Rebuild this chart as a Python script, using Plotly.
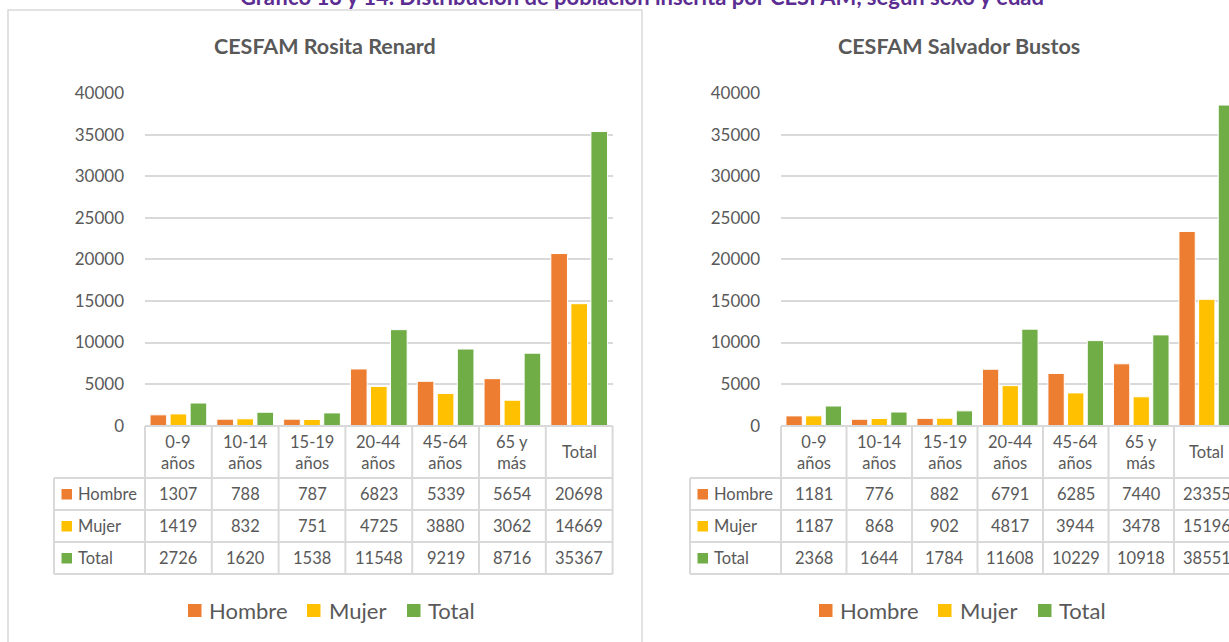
import plotly.graph_objects as go

# ---------------- data ----------------
categories = ["0-9 años", "10-14 años", "15-19 años", "20-44 años", "45-64 años", "65 y más", "Total"]
header_labels = ["0-9<br>años", "10-14<br>años", "15-19<br>años", "20-44<br>años", "45-64<br>años", "65 y<br>más", "Total"]
series_names = ["Hombre", "Mujer", "Total"]

rosita_hombre = [1307, 788, 787, 6823, 5339, 5654, 20698]
rosita_mujer = [1419, 832, 751, 4725, 3880, 3062, 14669]
rosita_total = [2726, 1620, 1538, 11548, 9219, 8716, 35367]

salvador_hombre = [1181, 776, 882, 6791, 6285, 7440, 23355]
salvador_mujer = [1187, 868, 902, 4817, 3944, 3478, 15196]
salvador_total = [2368, 1644, 1784, 11608, 10229, 10918, 38551]

y_ticks = [0, 5000, 10000, 15000, 20000, 25000, 30000, 35000, 40000]
y_tick_labels = ["0", "5000", "10000", "15000", "20000", "25000", "30000", "35000", "40000"]

main_title = "Gráfico 13 y 14. Distribución de población inscrita por CESFAM, según sexo y edad"
chart_titles = ["CESFAM Rosita Renard", "CESFAM Salvador Bustos"]

# ---------------- style ----------------
W, H = 1229, 642
FONT = "Lato"
TXT = "#595959"
GRID = "#D9D9D9"
colors = ["#ED7D31", "#FFC000", "#70AD47"]
TBL_SIZE = 16.5


def X(px):
    return px / W


def Y(py):
    return 1 - py / H


panels = [
    dict(data=[rosita_hombre, rosita_mujer, rosita_total], x0=145, colw=66.8, rh0=54,
         center=325, leg_off=0, xa="x", ya="y"),
    dict(data=[salvador_hombre, salvador_mujer, salvador_total], x0=781, colw=65.5, rh0=690,
         center=959, leg_off=631, xa="x2", ya="y2"),
]

plot_top, plot_bot = 93, 425.7
row_lines = [426, 478, 510, 542, 574]
row_centers = [494, 526, 558]

fig = go.Figure()
shapes = []
annotations = []

for p_i, p in enumerate(panels):
    for s_i, name in enumerate(series_names):
        fig.add_trace(go.Bar(
            x=categories, y=p["data"][s_i], name=name,
            marker=dict(color=colors[s_i], line=dict(color="white", width=1)),
            xaxis=p["xa"], yaxis=p["ya"], showlegend=False,
        ))

    x0, cw, rh0 = p["x0"], p["colw"], p["rh0"]
    x_end = x0 + 7 * cw
    # table horizontal lines
    shapes.append(dict(type="line", xref="paper", yref="paper", x0=X(x0), x1=X(x_end),
                       y0=Y(row_lines[0]), y1=Y(row_lines[0]), line=dict(color=GRID, width=2)))
    for ry in row_lines[1:]:
        shapes.append(dict(type="line", xref="paper", yref="paper", x0=X(rh0), x1=X(x_end),
                           y0=Y(ry), y1=Y(ry), line=dict(color=GRID, width=2)))
    # vertical lines
    shapes.append(dict(type="line", xref="paper", yref="paper", x0=X(rh0), x1=X(rh0),
                       y0=Y(row_lines[1]), y1=Y(row_lines[-1]), line=dict(color=GRID, width=2)))
    for k in range(8):
        xx = x0 + k * cw
        shapes.append(dict(type="line", xref="paper", yref="paper", x0=X(xx), x1=X(xx),
                           y0=Y(row_lines[0]), y1=Y(row_lines[-1]), line=dict(color=GRID, width=2)))
    # header labels
    for k, lab in enumerate(header_labels):
        annotations.append(dict(text=lab, xref="paper", yref="paper", x=X(x0 + (k + 0.5) * cw),
                                y=Y(452), xanchor="center", yanchor="middle", showarrow=False,
                                font=dict(family=FONT, size=TBL_SIZE, color=TXT)))
    # rows
    for s_i, name in enumerate(series_names):
        cy = row_centers[s_i]
        shapes.append(dict(type="rect", xref="paper", yref="paper", x0=X(rh0 + 7.5), x1=X(rh0 + 18),
                           y0=Y(cy - 5), y1=Y(cy + 5.5), fillcolor=colors[s_i], line=dict(width=0)))
        annotations.append(dict(text=name, xref="paper", yref="paper", x=X(rh0 + 22), y=Y(cy),
                                xanchor="left", yanchor="middle", showarrow=False,
                                font=dict(family=FONT, size=TBL_SIZE, color=TXT)))
        for k, v in enumerate(p["data"][s_i]):
            annotations.append(dict(text=str(v), xref="paper", yref="paper",
                                    x=X(x0 + (k + 0.5) * cw), y=Y(cy), xanchor="center",
                                    yanchor="middle", showarrow=False,
                                    font=dict(family=FONT, size=TBL_SIZE, color=TXT)))
    # chart title
    annotations.append(dict(text="<b>%s</b>" % chart_titles[p_i], xref="paper", yref="paper",
                            x=X(p["center"]), y=Y(46), xanchor="center", yanchor="middle",
                            showarrow=False, font=dict(family=FONT, size=21.5, color=TXT)))
    # legend
    lo = p["leg_off"]
    for s_i, (sq, tx) in enumerate(zip([188, 307, 407], [207, 327, 426])):
        shapes.append(dict(type="rect", xref="paper", yref="paper", x0=X(sq + lo), x1=X(sq + lo + 13.5),
                           y0=Y(617), y1=Y(604), fillcolor=colors[s_i], line=dict(width=0)))
        annotations.append(dict(text=series_names[s_i], xref="paper", yref="paper", x=X(tx + lo),
                                y=Y(610), xanchor="left", yanchor="middle", showarrow=False,
                                font=dict(family=FONT, size=22, color=TXT)))

# chart box (left) border
shapes.append(dict(type="rect", xref="paper", yref="paper", x0=X(8), x1=X(642), y0=Y(10), y1=Y(700),
                   line=dict(color=GRID, width=1.5), fillcolor="rgba(0,0,0,0)", layer="below"))

annotations.append(dict(text="<b>%s</b>" % main_title, xref="paper", yref="paper", x=X(642), y=Y(-3.5),
                        xanchor="center", yanchor="middle", showarrow=False,
                        font=dict(family=FONT, size=22, color="#5B2C91")))

yaxis_common = dict(range=[0, 40000], tickvals=y_ticks, ticktext=y_tick_labels, showgrid=True,
                    gridcolor=GRID, gridwidth=1.5, zeroline=False, showline=False, ticks="",
                    ticklabelstandoff=20, tickfont=dict(family=FONT, size=17, color=TXT),
                    fixedrange=True, domain=[Y(plot_bot), Y(plot_top)])
xaxis_common = dict(showticklabels=False, showgrid=False, zeroline=False, showline=False, ticks="",
                    type="category", fixedrange=True)

p0, p1 = panels
fig.update_layout(
    width=W, height=H,
    margin=dict(l=0, r=0, t=0, b=0, autoexpand=False),
    paper_bgcolor="white", plot_bgcolor="white",
    barmode="group", bargap=0.1, bargroupgap=0.17,
    xaxis=dict(**xaxis_common, domain=[X(p0["x0"]), X(p0["x0"] + 7 * p0["colw"])], range=[-0.5, 6.5],
               anchor="y"),
    yaxis=dict(**yaxis_common, anchor="x"),
    xaxis2=dict(**xaxis_common, domain=[X(p1["x0"]), 1],
                range=[-0.5, -0.5 + (W - p1["x0"]) / p1["colw"]], anchor="y2"),
    yaxis2=dict(**yaxis_common, anchor="x2"),
    shapes=shapes,
    annotations=annotations,
    font=dict(family=FONT, color=TXT),
)

fig.write_html(
    "out.html",
    config={"displayModeBar": False},
    post_script="document.body.style.margin='0';document.body.style.overflow='hidden';",
)
